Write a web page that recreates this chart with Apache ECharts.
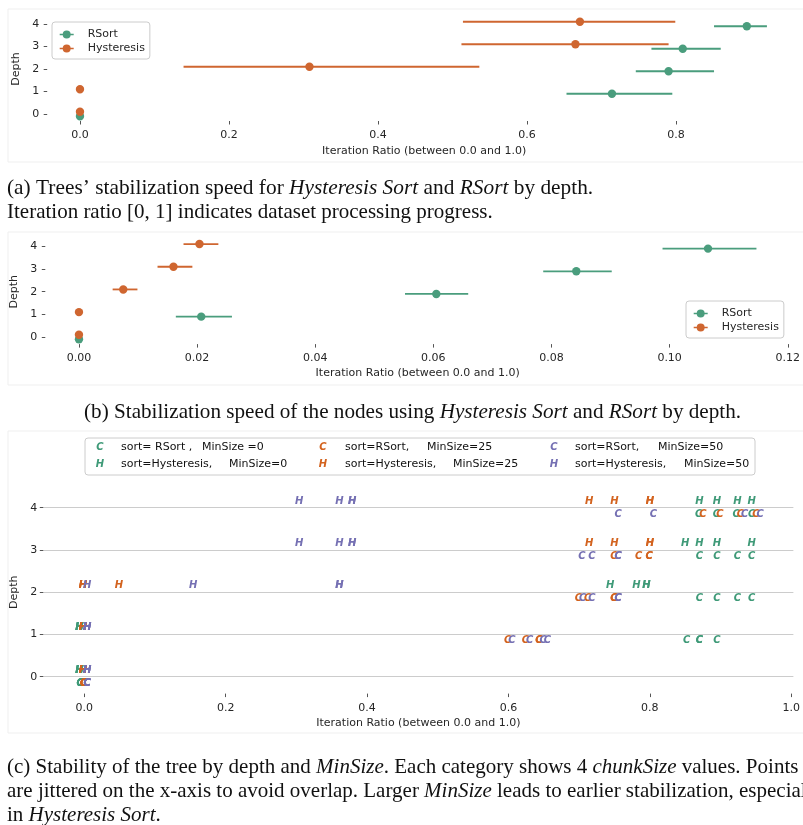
<!DOCTYPE html>
<html>
<head>
<meta charset="utf-8">
<script src="https://cdn.jsdelivr.net/npm/echarts@6/dist/echarts.min.js"></script>
<style>
  html, body { margin: 0; padding: 0; background: #ffffff; }
  #chart { width: 803px; height: 825px; }
</style>
</head>
<body>
<div id="chart"></div>
<script>
// ---- shared categories ----
const depths = [0, 1, 2, 3, 4];
const sortNames = ['RSort', 'Hysteresis'];

// ---- panel (a): tree stabilization, mean and interval per depth ----
const aRSortMean = [0, 0.714, 0.790, 0.809, 0.895];
const aRSortLo   = [0, 0.653, 0.746, 0.767, 0.851];
const aRSortHi   = [0, 0.795, 0.851, 0.860, 0.922];
const aHystMean  = [0, 0, 0.308, 0.665, 0.671];
const aHystLo    = [0, 0, 0.139, 0.512, 0.514];
const aHystHi    = [0, 0, 0.536, 0.790, 0.799];
const aTicks = [0, 0.2, 0.4, 0.6, 0.8];

// ---- panel (b): node stabilization, mean and interval per depth ----
const bRSortMean = [0, 0.0207, 0.0605, 0.0842, 0.1065];
const bRSortLo   = [0, 0.0164, 0.0552, 0.0786, 0.0988];
const bRSortHi   = [0, 0.0259, 0.0659, 0.0902, 0.1147];
const bHystMean  = [0, 0, 0.0075, 0.0160, 0.0204];
const bHystLo    = [0, 0, 0.0057, 0.0133, 0.0177];
const bHystHi    = [0, 0, 0.0099, 0.0192, 0.0236];
const bTicks = [0, 0.02, 0.04, 0.06, 0.08, 0.10, 0.12];

// ---- panel (c): one value per chunkSize (4) for every depth 0..4 ----
const cRSort0 = [
  [-0.006, -0.006, -0.006, -0.006],
  [0.852, 0.870, 0.870, 0.895],
  [0.870, 0.895, 0.924, 0.944],
  [0.870, 0.895, 0.924, 0.944],
  [0.869, 0.894, 0.922, 0.944]
];
const cRSort25 = [
  [-0.001, -0.001, -0.001, -0.001],
  [0.599, 0.624, 0.643, 0.643],
  [0.699, 0.712, 0.749, 0.749],
  [0.749, 0.784, 0.799, 0.799],
  [0.875, 0.899, 0.928, 0.950]
];
const cRSort50 = [
  [0.004, 0.004, 0.004, 0.004],
  [0.605, 0.630, 0.649, 0.655],
  [0.705, 0.718, 0.755, 0.755],
  [0.704, 0.718, 0.755, 0.755],
  [0.755, 0.805, 0.934, 0.956]
];
const cHyst0 = [
  [-0.007, -0.007, -0.007, -0.007],
  [-0.007, -0.007, -0.007, -0.007],
  [0.744, 0.781, 0.795, 0.795],
  [0.850, 0.870, 0.895, 0.944],
  [0.870, 0.895, 0.924, 0.944]
];
const cHyst25 = [
  [-0.002, -0.002, -0.002, -0.002],
  [-0.002, -0.002, -0.002, -0.002],
  [-0.002, -0.002, -0.002, 0.049],
  [0.714, 0.750, 0.800, 0.800],
  [0.714, 0.750, 0.800, 0.800]
];
const cHyst50 = [
  [0.004, 0.004, 0.004, 0.004],
  [0.004, 0.004, 0.004, 0.004],
  [0.004, 0.154, 0.361, 0.361],
  [0.304, 0.361, 0.379, 0.379],
  [0.304, 0.361, 0.379, 0.379]
];
const cTicks = [0, 0.2, 0.4, 0.6, 0.8, 1.0];

// ---- styling ----
const GREEN = '#4a9d7d';
const ORANGE = '#cf6630';
const C_GREEN = '#3f9a78';
const C_ORANGE = '#d3631f';
const C_PURPLE = '#7570b3';
const TICK_FONT = 'DejaVu Sans';
const CAP_FONT = 'Liberation Serif';
const CAP_SIZE = 21;
const DODGE = 0.1;       // vertical dodge between the two sorts in (a)/(b)
const H_SHIFT = 0.16;    // Hysteresis letters sit above the depth line in (c)
const C_SHIFT = -0.15;   // RSort letters sit below it

const legendIcon = 'path://M0,4.2L14,4.2L14,5.8L0,5.8Z M7,1A4,4 0 1 1 6.99,1Z M23,5L23.01,5L23.01,5.01Z';

function ciRows(mean, lo, hi, shift) {
  return depths.map((d, i) => [mean[i], d + shift, lo[i], hi[i]]);
}

function ciItem(params, api) {
  const y = api.value(1);
  const c = api.coord([api.value(0), y]);
  const lo = api.coord([api.value(2), y]);
  const hi = api.coord([api.value(3), y]);
  const color = api.visual('color');
  const children = [];
  if (hi[0] - lo[0] > 0.5) {
    children.push({ type: 'line', shape: { x1: lo[0], y1: lo[1], x2: hi[0], y2: hi[1] },
      style: { stroke: color, lineWidth: 1.8 } });
  }
  children.push({ type: 'circle', shape: { cx: c[0], cy: c[1], r: 4.2 }, style: { fill: color } });
  return { type: 'group', children };
}

function letterRows(values, shift) {
  const rows = [];
  values.forEach((vals, i) => vals.forEach(v => rows.push([v, depths[i] + shift])));
  return rows;
}

function letterSeries(name, letter, color, values, shift) {
  return {
    name, type: 'custom', xAxisIndex: 2, yAxisIndex: 2, z: 3,
    itemStyle: { color },
    data: letterRows(values, shift),
    renderItem(params, api) {
      const p = api.coord([api.value(0), api.value(1)]);
      return { type: 'text', x: p[0], y: p[1],
        style: { text: letter, fill: color, font: 'italic bold 10px "DejaVu Sans"',
          align: 'center', verticalAlign: 'middle' } };
    }
  };
}

function xAxisFor(gridIndex, min, max, ticks, digits, gap) {
  return {
    type: 'value', gridIndex, min, max,
    name: 'Iteration Ratio (between 0.0 and 1.0)', nameLocation: 'middle', nameGap: gap,
    nameTextStyle: { fontFamily: TICK_FONT, fontSize: 11, color: '#262626' },
    axisLine: { show: false, onZero: false },
    axisTick: { show: true, customValues: ticks, length: 3.5, lineStyle: { color: '#555', width: 1 } },
    axisLabel: { customValues: ticks, margin: 9, fontFamily: TICK_FONT, fontSize: 11, color: '#262626',
      formatter: v => v.toFixed(digits) },
    splitLine: { show: false }
  };
}

function yAxisFor(gridIndex, min, max, gap, margin, grid) {
  return {
    type: 'value', gridIndex, min, max,
    name: 'Depth', nameLocation: 'middle', nameGap: gap, nameRotate: 90,
    nameTextStyle: { fontFamily: TICK_FONT, fontSize: 11, color: '#262626' },
    axisLine: { show: false, onZero: false },
    axisTick: { show: true, customValues: depths, length: 3.5, lineStyle: { color: '#555', width: 1 } },
    axisLabel: { customValues: depths, margin, fontFamily: TICK_FONT, fontSize: 11, color: '#262626',
      formatter: v => String(Math.round(v)) },
    splitLine: grid ? { show: true, lineStyle: { color: '#cccccc', width: 1.2 } } : { show: false }
  };
}

function legendBox(left, top) {
  return {
    orient: 'vertical', left, top, data: sortNames,
    icon: legendIcon, itemWidth: 23, itemHeight: 8, itemGap: 3,
    padding: [7, 5, 5, 7.7],
    backgroundColor: 'rgba(255,255,255,0.85)', borderColor: '#cccccc', borderWidth: 1, borderRadius: 3,
    textStyle: { fontFamily: TICK_FONT, fontSize: 11, color: '#262626' },
    selectedMode: false
  };
}

// ---- captions and legend of (c) ----
function caption(x, y, text, sx) {
  return {
    type: 'text', x, y, scaleX: sx || 1, silent: true,
    style: { text, fill: '#111', font: CAP_SIZE + 'px "' + CAP_FONT + '"', verticalAlign: 'middle',
      rich: { i: { fontStyle: 'italic', fontFamily: CAP_FONT, fontSize: CAP_SIZE, fill: '#111' } } }
  };
}
function plain(x, y, text, font, fill, align) {
  return { type: 'text', x, y, silent: true,
    style: { text, font, fill, align: align || 'left', verticalAlign: 'middle' } };
}
const legFont = '11px "DejaVu Sans"';
const letterFont = 'italic bold 10px "DejaVu Sans"';

const graphics = [
  // faint frames around the three sub-figures
  { type: 'rect', shape: { x: 8, y: 9, width: 800, height: 153 }, style: { fill: 'none', stroke: '#efefef', lineWidth: 1 }, silent: true },
  { type: 'rect', shape: { x: 8, y: 232, width: 800, height: 153 }, style: { fill: 'none', stroke: '#efefef', lineWidth: 1 }, silent: true },
  { type: 'rect', shape: { x: 8, y: 431, width: 800, height: 302 }, style: { fill: 'none', stroke: '#efefef', lineWidth: 1 }, silent: true },

  caption(7, 188, '(a) Trees’ stabilization speed for {i|Hysteresis Sort} and {i|RSort} by depth.', 1.017),
  caption(7, 212, 'Iteration ratio [0, 1] indicates dataset processing progress.', 1.0),
  caption(84, 412, '(b) Stabilization speed of the nodes using {i|Hysteresis Sort} and {i|RSort} by depth.', 1.008),
  caption(7, 767, '(c) Stability of the tree by depth and {i|MinSize}. Each category shows 4 {i|chunkSize} values. Points'),
  caption(7, 791, 'are jittered on the x-axis to avoid overlap. Larger {i|MinSize} leads to earlier stabilization, especially'),
  caption(7, 815, 'in {i|Hysteresis Sort}.'),

  // legend of (c)
  { type: 'rect', shape: { x: 85, y: 438, width: 670, height: 37, r: 3 }, style: { fill: '#ffffff', stroke: '#cccccc', lineWidth: 1 }, silent: true },
  plain(100, 447.5, 'C', letterFont, C_GREEN, 'center'),
  plain(121, 447.5, 'sort= RSort ,', legFont, '#111'),
  plain(202, 447.5, 'MinSize =0', legFont, '#111'),
  plain(100, 464.5, 'H', letterFont, C_GREEN, 'center'),
  plain(121, 464.5, 'sort=Hysteresis,', legFont, '#111'),
  plain(229, 464.5, 'MinSize=0', legFont, '#111'),
  plain(323, 447.5, 'C', letterFont, C_ORANGE, 'center'),
  plain(345, 447.5, 'sort=RSort,', legFont, '#111'),
  plain(427, 447.5, 'MinSize=25', legFont, '#111'),
  plain(323, 464.5, 'H', letterFont, C_ORANGE, 'center'),
  plain(345, 464.5, 'sort=Hysteresis,', legFont, '#111'),
  plain(453, 464.5, 'MinSize=25', legFont, '#111'),
  plain(554, 447.5, 'C', letterFont, C_PURPLE, 'center'),
  plain(575, 447.5, 'sort=RSort,', legFont, '#111'),
  plain(658, 447.5, 'MinSize=50', legFont, '#111'),
  plain(554, 464.5, 'H', letterFont, C_PURPLE, 'center'),
  plain(575, 464.5, 'sort=Hysteresis,', legFont, '#111'),
  plain(684, 464.5, 'MinSize=50', legFont, '#111')
];

const chart = echarts.init(document.getElementById('chart'), null, { renderer: 'canvas' });
chart.setOption({
  animation: false,
  backgroundColor: '#ffffff',
  grid: [
    { left: 47.2, width: 754, top: 17, height: 104 },
    { left: 45.3, width: 745.3, top: 239.3, height: 104.8 },
    { left: 43.3, width: 750.8, top: 490.8, height: 202.8 }
  ],
  xAxis: [
    xAxisFor(0, -0.044, 0.968, aTicks, 1, 25),
    xAxisFor(1, -0.0057, 0.1204, bTicks, 2, 24),
    xAxisFor(2, -0.058, 1.003, cTicks, 1, 24)
  ],
  yAxis: [
    yAxisFor(0, -0.31, 4.31, 14, 8, false),
    yAxisFor(1, -0.31, 4.31, 14, 8, false),
    yAxisFor(2, -0.4, 4.4, 11, 6, true)
  ],
  legend: [legendBox(52, 22), legendBox(686, 301)],
  graphic: graphics,
  series: [
    { name: 'RSort', type: 'custom', xAxisIndex: 0, yAxisIndex: 0, itemStyle: { color: GREEN },
      data: ciRows(aRSortMean, aRSortLo, aRSortHi, -DODGE), renderItem: ciItem },
    { name: 'Hysteresis', type: 'custom', xAxisIndex: 0, yAxisIndex: 0, itemStyle: { color: ORANGE },
      data: ciRows(aHystMean, aHystLo, aHystHi, DODGE), renderItem: ciItem },
    { name: 'RSort', type: 'custom', xAxisIndex: 1, yAxisIndex: 1, itemStyle: { color: GREEN },
      data: ciRows(bRSortMean, bRSortLo, bRSortHi, -DODGE), renderItem: ciItem },
    { name: 'Hysteresis', type: 'custom', xAxisIndex: 1, yAxisIndex: 1, itemStyle: { color: ORANGE },
      data: ciRows(bHystMean, bHystLo, bHystHi, DODGE), renderItem: ciItem },
    letterSeries('sort=RSort, MinSize=0', 'C', C_GREEN, cRSort0, C_SHIFT),
    letterSeries('sort=Hysteresis, MinSize=0', 'H', C_GREEN, cHyst0, H_SHIFT),
    letterSeries('sort=RSort, MinSize=25', 'C', C_ORANGE, cRSort25, C_SHIFT),
    letterSeries('sort=Hysteresis, MinSize=25', 'H', C_ORANGE, cHyst25, H_SHIFT),
    letterSeries('sort=RSort, MinSize=50', 'C', C_PURPLE, cRSort50, C_SHIFT),
    letterSeries('sort=Hysteresis, MinSize=50', 'H', C_PURPLE, cHyst50, H_SHIFT)
  ]
});
</script>
</body>
</html>
